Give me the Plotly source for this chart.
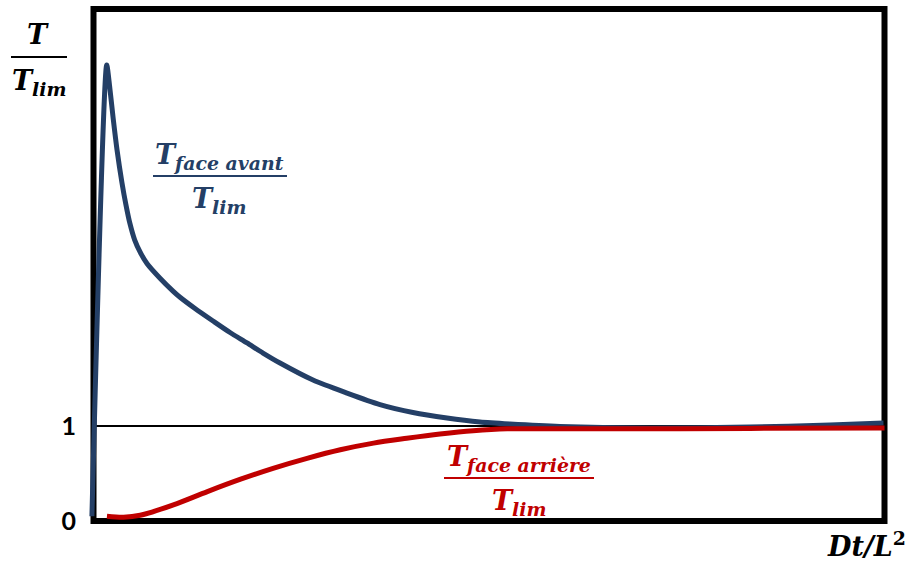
import plotly.graph_objects as go

# courbe face avant (blue) and face arrière (red)
x_avant = [-0.02, 0.167, 0.202, 0.247, 0.297, 0.360, 0.41, 0.461, 0.52, 0.59,
           0.676, 0.841, 1.005, 1.094, 1.283, 1.511, 1.726, 1.941, 2.143, 2.358,
           2.775, 3.205, 3.622, 4.039, 4.469, 4.886, 5.265, 5.897, 7.035, 8.299,
           9.311, 9.987]
y_avant = [0.05, 4.80, 4.59, 4.25, 3.91, 3.56, 3.33, 3.13, 2.96, 2.83,
           2.71, 2.555, 2.42, 2.355, 2.237, 2.105, 1.984, 1.874, 1.768, 1.663,
           1.484, 1.347, 1.226, 1.142, 1.084, 1.042, 1.021, 0.995, 0.979, 0.989,
           1.011, 1.032]

x_arriere = [0.17, 0.38, 0.59, 1.01, 1.44, 1.86, 2.27, 2.70, 3.12, 3.54, 3.96,
             4.38, 4.80, 5.23, 6.40, 8.30, 10.0]
y_arriere = [0.05, 0.04, 0.06, 0.17, 0.31, 0.44, 0.555, 0.66, 0.75, 0.82, 0.87,
             0.915, 0.95, 0.97, 0.97, 0.975, 0.98]

y_ticks = [0, 1]
y_ticktext = ["0", "1"]

BLUE = "#243F66"
RED = "#C00000"
MATH = "DejaVu Serif"

# plot area in pixels (916x564 page)
L, R, T, B = 85, 893, 3, 529


def px_x(p):
    return (p - L) / (R - L)


def px_y(p):
    return (B - p) / (B - T)


fig = go.Figure()
fig.add_trace(go.Scatter(x=x_avant, y=y_avant, mode="lines",
                         line=dict(color=BLUE, width=5, shape="spline", smoothing=0.7)))
fig.add_trace(go.Scatter(x=x_arriere, y=y_arriere, mode="lines",
                         line=dict(color=RED, width=5, shape="spline", smoothing=0.9)))

xr = [(L - 93.5) / 79.1, (R - 93.5) / 79.1]
yr = [(521 - B) / 95, (521 - T) / 95]

fig.update_layout(
    width=916, height=564,
    margin=dict(l=L, r=916 - R, t=T, b=564 - B),
    paper_bgcolor="white", plot_bgcolor="white",
    showlegend=False,
    xaxis=dict(range=xr, showgrid=False, zeroline=False, showticklabels=False,
               showline=False, ticks=""),
    yaxis=dict(range=yr, showgrid=False, zeroline=False, showline=False,
               tickvals=y_ticks, ticktext=y_ticktext, ticks="",
               tickfont=dict(family="Lato", size=25, color="black", weight="bold"),
               ticklabelstandoff=8),
    shapes=[
        dict(type="line", xref="x", yref="y", x0=0, x1=10, y0=1, y1=1,
             line=dict(color="black", width=1.8), layer="below"),
        dict(type="rect", xref="x", yref="y", x0=0, x1=10, y0=0, y1=5.39,
             line=dict(color="black", width=6), layer="below"),
        # fraction bars
        dict(type="line", xref="paper", yref="paper", x0=px_x(11), x1=px_x(67),
             y0=px_y(57), y1=px_y(57), line=dict(color="black", width=2)),
        dict(type="line", xref="paper", yref="paper", x0=px_x(153), x1=px_x(287),
             y0=px_y(176), y1=px_y(176), line=dict(color=BLUE, width=2)),
        dict(type="line", xref="paper", yref="paper", x0=px_x(444), x1=px_x(594),
             y0=px_y(478), y1=px_y(478), line=dict(color=RED, width=2)),
    ],
)


def label(text, x, y, color, size=27, anchor="center"):
    fig.add_annotation(text=text, xref="paper", yref="paper", x=px_x(x), y=px_y(y),
                       xanchor=anchor, yanchor="middle", showarrow=False,
                       font=dict(family=MATH, size=size, color=color))


label("<b><i>T</i></b>", 38, 34, "black")
label("<b><i>T<sub>lim</sub></i></b>", 39, 82, "black")

label("<b><i>T<sub>face avant</sub></i></b>", 219, 157, BLUE)
label("<b><i>T<sub>lim</sub></i></b>", 219, 200, BLUE)

label("<b><i>T<sub>face arrière</sub></i></b>", 519, 458, RED)
label("<b><i>T<sub>lim</sub></i></b>", 519, 502, RED)

label("<b><i>Dt/L</i><sup>2</sup></b>", 908, 544, "black", anchor="right")

# the page body has an 8px default margin; drop it so the figure sits at 0,0
fig.write_html("out.html", config={"displayModeBar": False},
               post_script="document.body.style.margin='0';")
